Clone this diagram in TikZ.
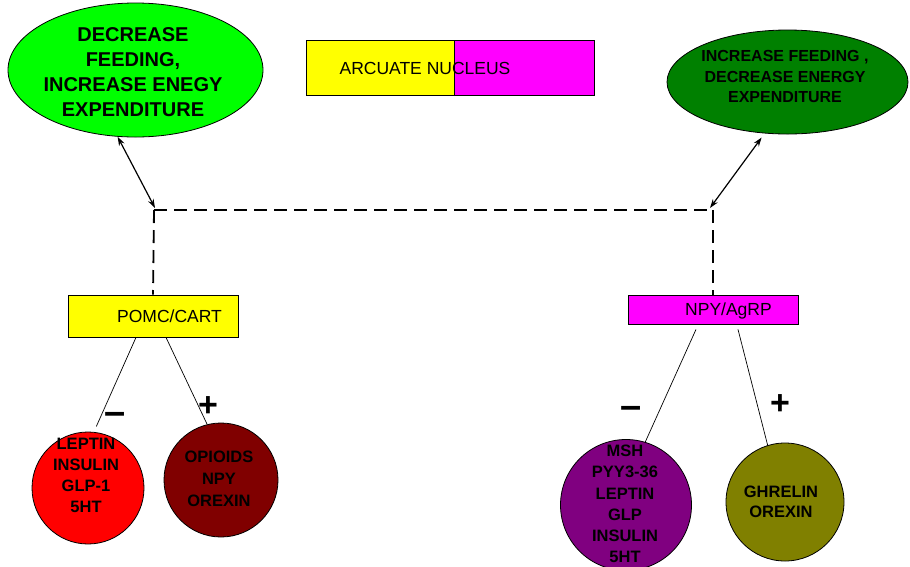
\documentclass[tikz,border=0pt]{standalone}
\usepackage{fontspec}
\setmainfont{Liberation Sans}
\usetikzlibrary{shapes.geometric,arrows.meta}
\definecolor{brightgreen}{RGB}{0,255,0}
\definecolor{darkgreen}{RGB}{0,128,0}
\definecolor{yel}{RGB}{255,255,0}
\definecolor{mag}{RGB}{255,0,255}
\definecolor{redc}{RGB}{255,0,0}
\definecolor{darkredc}{RGB}{128,0,0}
\definecolor{purplec}{RGB}{128,0,128}
\definecolor{olivec}{RGB}{128,128,0}
\tikzset{
  outline/.style={draw=black,line width=0.8pt},
  ellbox/.style={outline,ellipse,inner sep=0pt},
  circbox/.style={outline,circle,inner sep=0pt},
  recbox/.style={outline,rectangle,inner sep=0pt},
  celltext/.style={align=center,inner sep=0pt,font=\fontsize{16.5}{21.2}\selectfont\bfseries},
  boxtext/.style={inner sep=0pt,anchor=base,font=\fontsize{17.5}{20}\selectfont},
  sign/.style={inner sep=0pt,font=\fontsize{34}{34}\selectfont\bfseries},
  minussign/.style={inner sep=0pt,font=\fontsize{38}{38}\selectfont\bfseries},
  dashline/.style={line width=1.8pt,dash pattern=on 13pt off 7pt},
  arrowline/.style={line width=1.2pt,{Stealth[length=9pt,width=6pt]}-{Stealth[length=9pt,width=6pt]}},
  thinline/.style={line width=0.7pt}
}
\begin{document}
\begin{tikzpicture}[x=1pt,y=-1pt]
\clip (0,0) rectangle (910,566);
\fill[white] (0,0) rectangle (910,566);

% top ellipses
\node[ellbox,fill=brightgreen,minimum width=255pt,minimum height=134pt] (ell1) at (135.5,70) {};
\node[celltext,font=\fontsize{20}{25}\selectfont\bfseries] (ell1t) at (133,72) {DECREASE\\FEEDING,\\INCREASE ENEGY\\EXPENDITURE};
\node[ellbox,fill=darkgreen,minimum width=241pt,minimum height=104pt] (ell2) at (787.5,82) {};
\node[celltext,font=\fontsize{16}{20.5}\selectfont\bfseries] (ell2t) at (785,76.7) {INCREASE FEEDING ,\\DECREASE ENERGY\\EXPENDITURE};

% arcuate nucleus box
\node[recbox,fill=yel,minimum width=148pt,minimum height=55pt] (arcl) at (380,67.5) {};
\node[recbox,fill=mag,minimum width=140pt,minimum height=55pt] (arcr) at (524,67.5) {};
\node[boxtext] (arct) at (425,74) {ARCUATE NUCLEUS};

% junctions
\coordinate (jl) at (154,210);
\coordinate (jr) at (713,210);

% boxes
\node[recbox,fill=yel,minimum width=170pt,minimum height=42pt] (pomc) at (153,316) {};
\node[boxtext] (pomct) at (169.5,322) {POMC/CART};
\node[recbox,fill=mag,minimum width=170pt,minimum height=29pt] (npy) at (713,309.5) {};
\node[boxtext] (npyt) at (728.5,315) {NPY/AgRP};

% dashed connectors
\draw[dashline] (jl) -- (jr);
\draw[dashline] (jl) -- (pomc.north);
\draw[dashline] (jr) -- (npy.north);

% arrows
\draw[arrowline] (ell1.-105) -- ([xshift=1pt,yshift=2pt]jl);
\draw[arrowline,shorten <=5pt] (ell2.-114) -- ([xshift=-3pt,yshift=2pt]jr);

% circles
\node[circbox,fill=redc,minimum size=112pt] (red) at (88,488) {};
\node[celltext,font=\fontsize{16.5}{21}\selectfont\bfseries] (redt) at (86,475.6) {LEPTIN\\INSULIN\\GLP-1\\5HT};
\node[circbox,fill=darkredc,minimum size=114pt] (dred) at (221,480) {};
\node[celltext,font=\fontsize{16.5}{22}\selectfont\bfseries] (dredt) at (219,479) {OPIOIDS\\NPY\\OREXIN};
\node[circbox,fill=purplec,minimum size=131pt] (purp) at (626,505) {};
\node[celltext] (purpt) at (625,504) {MSH\\PYY3-36\\LEPTIN\\GLP\\INSULIN\\5HT};
\node[circbox,fill=olivec,minimum size=118pt] (oliv) at (785,502) {};
\node[celltext,font=\fontsize{16.5}{20}\selectfont\bfseries] (olivt) at (781,502) {GHRELIN\\OREXIN};

% thin connectors
\draw[thinline,shorten >=6pt] ([xshift=-17pt]pomc.south) -- (red.84);
\draw[thinline] ([xshift=13pt]pomc.south) -- (dred.104);
\draw[thinline] ([xshift=-17pt,yshift=-5pt]npy.south) -- (purp.73);
\draw[thinline] ([xshift=25pt,yshift=-5pt]npy.south) -- (oliv.107);

% signs
\node[minussign] (m1) at (115,418) {–};
\node[sign] (p1) at (208,407) {+};
\node[minussign] (m2) at (631,412) {–};
\node[sign] (p2) at (780,405) {+};
\end{tikzpicture}
\end{document}
